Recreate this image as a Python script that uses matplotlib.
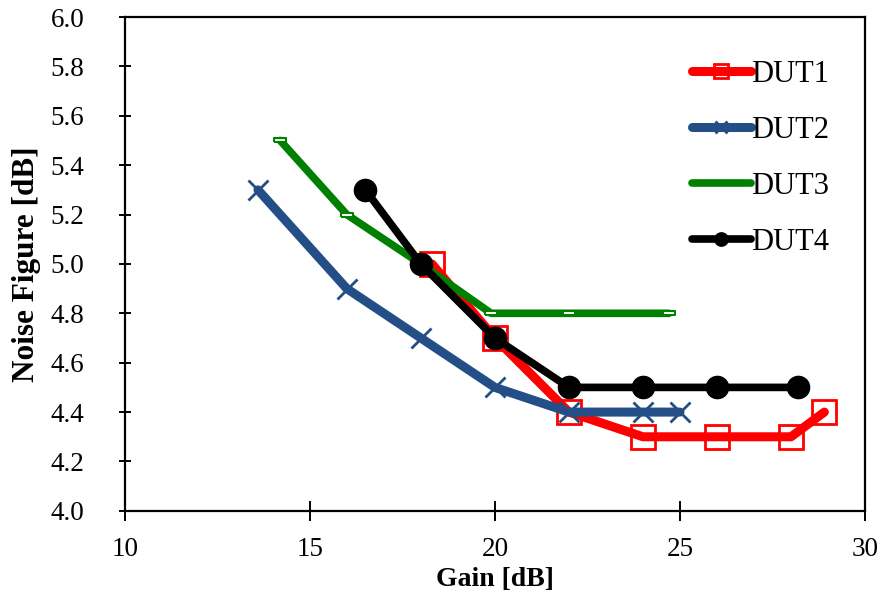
import matplotlib
matplotlib.use("Agg")
import matplotlib.pyplot as plt

# data
dut1_gain = [18.3, 20, 22, 24, 26, 28, 28.9]
dut1_nf = [5.0, 4.7, 4.4, 4.3, 4.3, 4.3, 4.4]

dut2_gain = [13.6, 16, 18, 20, 22, 24, 25]
dut2_nf = [5.3, 4.9, 4.7, 4.5, 4.4, 4.4, 4.4]

dut3_gain = [14.2, 16, 18, 19.9, 22, 24.7]
dut3_nf = [5.5, 5.2, 5.0, 4.8, 4.8, 4.8]

dut4_gain = [16.5, 18, 20, 22, 24, 26, 28.2]
dut4_nf = [5.3, 5.0, 4.7, 4.5, 4.5, 4.5, 4.5]

xticks = [10, 15, 20, 25, 30]
yticks = [4.0, 4.2, 4.4, 4.6, 4.8, 5.0, 5.2, 5.4, 5.6, 5.8, 6.0]

plt.rcParams["font.family"] = ["Liberation Serif", "DejaVu Serif"]

fig = plt.figure(figsize=(8.83, 6.01), dpi=100)
ax = fig.add_axes([0.1412, 0.150, 0.8385, 0.8217])

# small flat rectangle marker for DUT3
rect = [(-1, -0.3), (1, -0.3), (1, 0.3), (-1, 0.3), (-1, -0.3)]

ax.plot(dut1_gain, dut1_nf, color="#FF0000", lw=6.5, marker="s", ms=17,
        mfc="none", mec="#FF0000", mew=2, label="DUT1", solid_capstyle="round")
ax.plot(dut2_gain, dut2_nf, color="#234E86", lw=6.5, marker="x", ms=15,
        mew=2, label="DUT2", solid_capstyle="round")
ax.plot(dut3_gain, dut3_nf, color="#008000", lw=5.5, marker=rect, ms=8,
        mfc="white", mec="#008000", mew=1.5, label="DUT3", solid_capstyle="round")
ax.plot(dut4_gain, dut4_nf, color="black", lw=5.5, marker="o", ms=16,
        label="DUT4", solid_capstyle="round")

ax.set_xlim(10, 30)
ax.set_ylim(4.0, 6.0)
ax.set_xticks(xticks)
ax.set_yticks(yticks)
ax.set_yticklabels([f"{v:.1f}" for v in yticks])

for s in ax.spines.values():
    s.set_linewidth(1.6)
ax.tick_params(axis="x", direction="inout", length=14, width=1.4, labelsize=19.5, pad=12)
ax.tick_params(axis="y", direction="inout", length=8, width=1.4, labelsize=19.5, pad=25)

ax.set_xlabel("Gain [dB]", fontsize=20, fontweight="bold")
ax.set_ylabel("Noise Figure [dB]", fontsize=22.5, fontweight="bold")
ax.xaxis.set_label_coords(0.5, -0.113)
ax.yaxis.set_label_coords(-0.113, 0.5)

ax.legend(loc="upper left", bbox_to_anchor=(0.745, 0.944), frameon=False,
          fontsize=22, handlelength=1.95, handletextpad=0.0, labelspacing=0.88,
          borderpad=0, markerscale=0.6)

fig.savefig("out.png", dpi=100)
